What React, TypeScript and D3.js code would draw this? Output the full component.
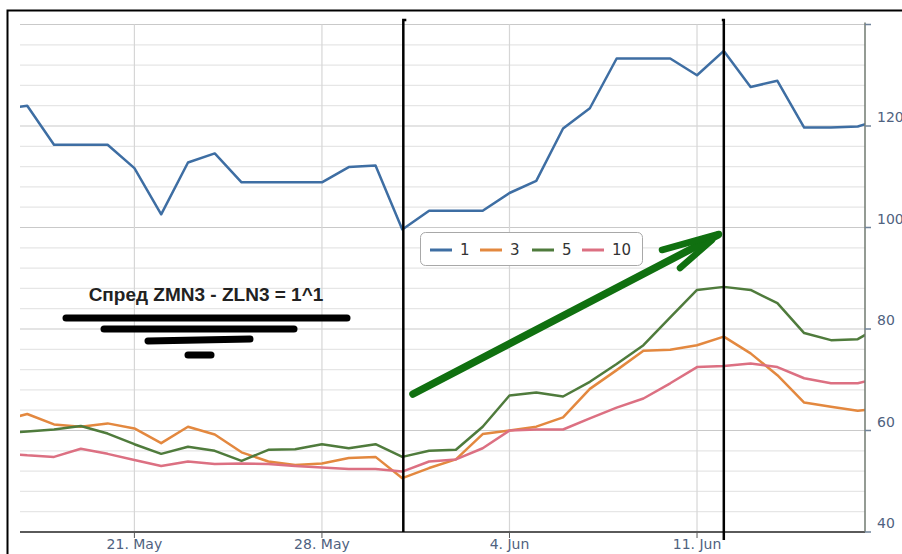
import React from "react";
import * as d3 from "d3";

// ---- data ----
const startDate = "2013-05-16";
const seriesNames = ["1", "3", "5", "10"];
const s1 = [123.3, 124.0, 116.3, 116.3, 116.3, 111.7, 102.6, 112.8, 114.6, 108.9, 108.9, 108.9, 108.9, 111.9, 112.2, 99.6,
  103.3, 103.3, 103.3, 106.8, 109.2, 119.5, 123.5, 133.3, 133.3, 133.3, 130.0, 134.8, 127.7, 128.9, 119.7, 119.7, 119.9, 121.5];
const s3 = [61.9, 63.25, 61.2, 60.75, 61.4, 60.4, 57.5, 60.75, 59.2, 55.7, 53.9, 53.2, 53.5, 54.6, 54.8, 50.6,
  52.6, 54.3, 59.3, 60.0, 60.75, 62.6, 68.2, 71.9, 75.7, 75.9, 76.8, 78.5, 75.2, 70.9, 65.5, 64.7, 63.9, 64.4];
const s5 = [59.5, 59.8, 60.2, 60.9, 59.4, 57.3, 55.4, 56.8, 56.0, 54.0, 56.2, 56.3, 57.3, 56.5, 57.3, 54.8,
  56.0, 56.2, 60.75, 66.9, 67.5, 66.7, 69.6, 73.1, 76.8, 82.3, 87.7, 88.3, 87.7, 85.1, 79.2, 77.8, 78.0, 81.0];
const s10 = [55.6, 55.1, 54.8, 56.4, 55.4, 54.2, 53.0, 53.9, 53.4, 53.5, 53.4, 53.0, 52.7, 52.4, 52.4, 51.9,
  53.9, 54.3, 56.5, 60.0, 60.2, 60.2, 62.4, 64.5, 66.3, 69.3, 72.5, 72.7, 73.2, 72.5, 70.3, 69.3, 69.3, 70.6];
const xTickDates = ["2013-05-21", "2013-05-28", "2013-06-04", "2013-06-11"];
const yTicks = [40, 60, 80, 100, 120, 140];
const yLabels = [40, 60, 80, 100, 120];
const annotationText = "Спред ZMN3 - ZLN3 = 1^1";
const markerDates = ["2013-05-31", "2013-06-12"];

const colors = ["#3e6ea3", "#e3883f", "#4f7b3c", "#dc7082"];

const DAY = 86400000;
const W = 902, H = 554;
const L = 20, R = 865, T = 24.5, B = 532;

export default function App() {
  const d0 = Date.parse(startDate + "T00:00:00Z");
  const x = d3.scaleUtc()
    .domain([new Date(d0 + 0.73 * DAY), new Date(d0 + 32.27 * DAY)])
    .range([L, R]);
  const y = d3.scaleLinear().domain([40, 140]).range([B, T]);
  const series = [s1, s3, s5, s10];
  const line = d3.line<[Date, number]>().x(d => x(d[0])).y(d => y(d[1]));
  const minor = d3.range(40, 141, 4);
  const fmt = (s: string) => {
    const d = new Date(s + "T00:00:00Z");
    return `${d.getUTCDate()}. ${d3.utcFormat("%b")(d)}`;
  };
  const mx1 = x(new Date(markerDates[0] + "T00:00:00Z")) + 1;
  const mx2 = x(new Date(markerDates[1] + "T00:00:00Z"));

  return (
    <svg width={W} height={H} style={{ position: "absolute", left: 0, top: 0, background: "#fff" }}
      fontFamily="DejaVu Sans, sans-serif">
      <defs>
        <clipPath id="plot"><rect x={L} y={T - 2} width={R - L} height={B - T + 2} /></clipPath>
      </defs>
      <rect x={0} y={0} width={W} height={H} fill="#fff" />
      {/* outer frame */}
      <path d={`M7.5,${H}V10.5H${W}`} fill="none" stroke="#000" strokeWidth={2} />
      {/* minor gridlines */}
      {minor.map(v => (
        <line key={"m" + v} x1={L} x2={R} y1={y(v)} y2={y(v)} stroke={v % 20 === 0 ? "#c9c9c9" : "#e6e6e6"} strokeWidth={1.2} />
      ))}
      {/* vertical gridlines */}
      {xTickDates.map(s => {
        const xx = x(new Date(s + "T00:00:00Z"));
        return <line key={"v" + s} x1={xx} x2={xx} y1={T} y2={B} stroke="#d6d6d6" strokeWidth={1.2} />;
      })}
      {/* series */}
      <g clipPath="url(#plot)">
        {series.map((s, i) => {
          const pts: [Date, number][] = s.map((v, k) => [new Date(d0 + k * DAY), v]);
          return <path key={i} d={line(pts) || ""} fill="none" stroke={colors[i]} strokeWidth={2.5} strokeLinejoin="round" />;
        })}
      </g>
      {/* x axis */}
      <line x1={L} x2={R} y1={B} y2={B} stroke="#5a5a5a" strokeWidth={2} />
      {xTickDates.map(s => {
        const xx = x(new Date(s + "T00:00:00Z"));
        return (
          <g key={"t" + s}>
            <line x1={xx} x2={xx} y1={B} y2={B + 6} stroke="#5a5a5a" strokeWidth={1} />
            <text x={xx} y={B + 17} textAnchor="middle" fontSize={14} fill="#4f6280">{fmt(s)}</text>
          </g>
        );
      })}
      {/* right y axis */}
      <line x1={R} x2={R} y1={T - 2} y2={B} stroke="#707a70" strokeWidth={1.5} />
      {yTicks.map(v => (
        <line key={"yt" + v} x1={R} x2={R + 6} y1={y(v)} y2={y(v)} stroke="#6f839a" strokeWidth={1.5} />
      ))}
      {yLabels.map(v => (
        <text key={"y" + v} x={R + 12} y={y(v) - 4} fontSize={14} fill="#4f6280">{v}</text>
      ))}
      {/* legend */}
      <rect x={420.5} y={232.5} width={222} height={33} rx={5} fill="#fff" stroke="#a8a8a8" strokeWidth={1} />
      {seriesNames.map((n, i) => {
        const lx = [430, 480, 532, 582][i];
        return (
          <g key={"lg" + n}>
            <line x1={lx} x2={lx + 22} y1={250} y2={250} stroke={colors[i]} strokeWidth={3} />
            <text x={lx + 30} y={255} fontSize={15} fill="#333">{n}</text>
          </g>
        );
      })}
      {/* black marker lines */}
      <path d={`M${mx1 + 3},20 H${mx1} V${B}`} fill="none" stroke="#000" strokeWidth={2.5} />
      <path d={`M${mx2 - 2},20 H${mx2} V${B + 8}`} fill="none" stroke="#000" strokeWidth={2.5} />
      {/* green arrow */}
      <g stroke="#107010" strokeLinecap="round" fill="none">
        <line x1={413} y1={394} x2={718} y2={235} strokeWidth={7.5} />
        <line x1={662} y1={250} x2={719} y2={234} strokeWidth={6.5} />
        <line x1={680} y1={268} x2={712} y2={240} strokeWidth={6.5} />
      </g>
      {/* annotation text and bars */}
      <text x={206} y={301} textAnchor="middle" fontFamily="Liberation Sans, Arial, sans-serif" fontWeight="bold" fontSize={19} fill="#222">{annotationText}</text>
      <g stroke="#000" strokeLinecap="round" strokeWidth={7}>
        <line x1={66} y1={318} x2={347} y2={318} />
        <line x1={104} y1={329} x2={294} y2={329} />
        <line x1={148} y1={341} x2={250} y2={339} />
        <line x1={188} y1={355} x2={211} y2={355} />
      </g>
    </svg>
  );
}
